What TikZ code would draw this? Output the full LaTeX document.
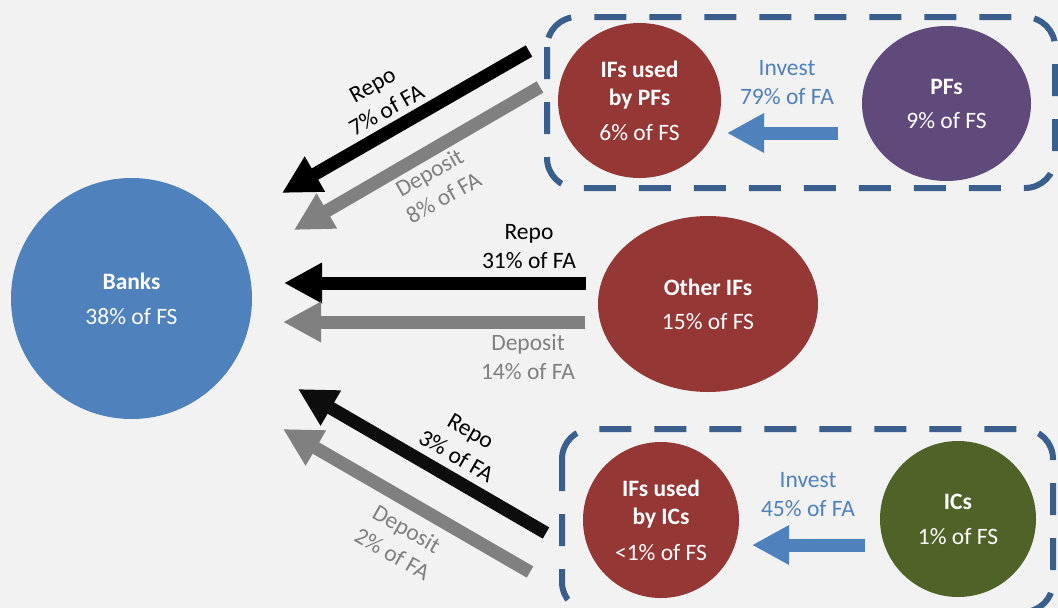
\documentclass[tikz,border=0pt]{standalone}
\usepackage{fontspec}
\setmainfont{Carlito}
\usetikzlibrary{arrows.meta,shapes.geometric}
\definecolor{bg}{HTML}{F2F2F2}
\definecolor{bankblue}{HTML}{4F81BD}
\definecolor{ifred}{HTML}{953735}
\definecolor{pfpurple}{HTML}{604A7B}
\definecolor{icgreen}{HTML}{4F6228}
\definecolor{groupblue}{HTML}{3A5F8C}
\definecolor{depgray}{HTML}{808080}
\definecolor{repoblack}{HTML}{000000}
\definecolor{repodark}{HTML}{0D0D0D}

\begin{document}
\begin{tikzpicture}[x=1pt,y=-1pt,
  sector/.style={ellipse, inner sep=0pt, text=white, align=center,
    font=\fontsize{23.5}{28}\selectfont},
  flow/.style={line width=13pt, -{Triangle[length=38pt,width=38pt]}},
  repo/.style={flow, draw=repoblack},
  deposit/.style={flow, draw=depgray},
  invest/.style={line width=13pt, draw=bankblue, -{Triangle[length=37pt,width=37pt]}},
  lbl/.style={align=center, inner sep=0pt, font=\fontsize{23.5}{29}\selectfont},
  groupbox/.style={draw=groupblue, line width=6pt, rounded corners=30pt,
    dash pattern=on 32pt off 23pt}
]
% canvas
\path[fill=bg, use as bounding box] (0,0) rectangle (1058,608);
\clip (0,0) rectangle (1058,608);

% dashed groupings
\draw[groupbox] (547,17) rectangle (1055,188);
\draw[groupbox] (562,429) rectangle (1053,612);

% sectors
\node[sector, fill=bankblue, minimum width=241pt, minimum height=241pt] (banks) at (131.5,298.5)
  {\textbf{Banks}\\[7pt]38\% of FS};
\node[sector, fill=ifred, minimum width=220pt, minimum height=176pt] (otherifs) at (708,304)
  {\textbf{Other IFs}\\[6pt]15\% of FS};
\node[sector, fill=ifred, minimum width=163pt, minimum height=155pt] (ifpf) at (639.5,100.5)
  {\textbf{IFs used}\\\textbf{by PFs}\\[7pt]6\% of FS};
\node[sector, fill=pfpurple, minimum width=169pt, minimum height=155pt] (pfs) at (946.5,103.5)
  {\textbf{PFs}\\[6pt]9\% of FS};
\node[sector, fill=ifred, minimum width=156pt, minimum height=156pt] (ific) at (661,520)
  {\textbf{IFs used}\\\textbf{by ICs}\\[8pt]<1\% of FS};
\node[sector, fill=icgreen, minimum width=156pt, minimum height=156pt] (ics) at (958,519)
  {\textbf{ICs}\\[7pt]1\% of FS};

% arrow end points
\coordinate (r1s) at (529,51);   \coordinate (r1e) at (282,193);
\coordinate (d1s) at (540,87);   \coordinate (d1e) at (294,230);
\coordinate (r2s) at (586,283);  \coordinate (r2e) at (284,283);
\coordinate (d2s) at (585,322);  \coordinate (d2e) at (283,322);
\coordinate (r3s) at (546,533);  \coordinate (r3e) at (298,389);
\coordinate (d3s) at (530,572);  \coordinate (d3e) at (283,429);
\coordinate (i1s) at (838,133);  \coordinate (i1e) at (727,133);
\coordinate (i2s) at (865,545);  \coordinate (i2e) at (752,545);

% flows into banks
\draw[repo] (r1s) -- (r1e);
\draw[deposit] (d1s) -- (d1e);
\draw[repo] (r2s) -- (r2e);
\draw[deposit] (d2s) -- (d2e);
\draw[repo, draw=repodark] (r3s) -- (r3e);
\draw[deposit] (d3s) -- (d3e);

% investment flows
\draw[invest] (i1s) -- (i1e);
\draw[invest] (i2s) -- (i2e);

% flow labels
\node[lbl, rotate=29.4] (lr1) at (379.5,97.5) {Repo\\7\% of FA};
\node[lbl, rotate=29.6, text=depgray] (ld1) at (436.5,185) {Deposit\\8\% of FA};
\node[lbl] (lr2) at (529,246.5) {Repo\\31\% of FA};
\node[lbl, text=depgray] (ld2) at (528,357.5) {Deposit\\14\% of FA};
\node[lbl, rotate=-30] (lr3) at (463.5,443.5) {Repo\\3\% of FA};
\node[lbl, rotate=-29.5, text=depgray] (ld3) at (399.5,541.5) {Deposit\\2\% of FA};
\node[lbl, text=bankblue] (li1) at (787,83) {Invest\\79\% of FA};
\node[lbl, text=bankblue] (li2) at (808,495) {Invest\\45\% of FA};
\end{tikzpicture}
\end{document}
